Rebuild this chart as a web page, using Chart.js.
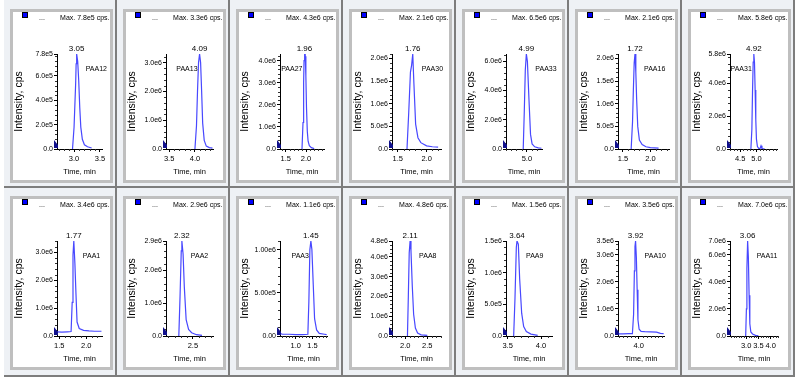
<!DOCTYPE html>
<html><head><meta charset="utf-8">
<script src="https://cdn.jsdelivr.net/npm/chart.js@4.4.1/dist/chart.umd.min.js"></script>
<style>
html,body{margin:0;padding:0;background:#fff;}
#wrap{position:relative;width:800px;height:386px;overflow:hidden;background:#fff;}
.cell{position:absolute;background:#eef1f5;border-right:2px solid #7d7d7d;border-bottom:2px solid #7d7d7d;box-sizing:border-box;}
.frame{position:absolute;border:3px solid #bfbfbf;background:#fff;box-sizing:border-box;}
canvas{display:block;}
</style></head><body><div id="wrap"></div>
<script>
// ---------------- DATA ----------------
const compounds = ['PAA12','PAA13','PAA27','PAA30','PAA33','PAA16','PAA31','PAA1','PAA2','PAA3','PAA8','PAA9','PAA10','PAA11'];
const maxLabels = ['Max. 7.8e5 cps.','Max. 3.3e6 cps.','Max. 4.3e6 cps.','Max. 2.1e6 cps.','Max. 6.5e6 cps.','Max. 2.1e6 cps.','Max. 5.8e6 cps.',
                   'Max. 3.4e6 cps.','Max. 2.9e6 cps.','Max. 1.1e6 cps.','Max. 4.8e6 cps.','Max. 1.5e6 cps.','Max. 3.5e6 cps.','Max. 7.0e6 cps.'];
const retentionTimes = ['3.05','4.09','1.96','1.76','4.99','1.72','4.92','1.77','2.32','1.45','2.11','3.64','3.92','3.06'];
const yMaxValues = [7.8e5,3.3e6,4.3e6,2.1e6,6.5e6,2.1e6,5.8e6,3.4e6,2.9e6,1.1e6,4.8e6,1.5e6,3.5e6,7.0e6];
const yTickValues = [
  [0,2e5,4e5,6e5,7.8e5],[0,1e6,2e6,3e6],[0,1e6,2e6,3e6,4e6],[0,5e5,1e6,1.5e6,2e6],[0,2e6,4e6,6e6],[0,5e5,1e6,1.5e6,2e6],[0,2e6,4e6,5.8e6],
  [0,1e6,2e6,3e6],[0,1e6,2e6,2.9e6],[0,5e5,1e6],[0,1e6,2e6,3e6,4e6,4.8e6],[0,5e5,1e6,1.5e6],[0,1e6,2e6,3e6,3.5e6],[0,2e6,4e6,6e6,7e6]];
const yTickLabels = [
  ['0.0','2.0e5','4.0e5','6.0e5','7.8e5'],['0.0','1.0e6','2.0e6','3.0e6'],['0.0','1.0e6','2.0e6','3.0e6','4.0e6'],
  ['0.0','5.0e5','1.0e6','1.5e6','2.0e6'],['0.0','2.0e6','4.0e6','6.0e6'],['0.0','5.0e5','1.0e6','1.5e6','2.0e6'],['0.0','2.0e6','4.0e6','5.8e6'],
  ['0.0','1.0e6','2.0e6','3.0e6'],['0.0','1.0e6','2.0e6','2.9e6'],['0.00','5.00e5','1.00e6'],['0.0','1.0e6','2.0e6','3.0e6','4.0e6','4.8e6'],
  ['0.0','5.0e5','1.0e6','1.5e6'],['0.0','1.0e6','2.0e6','3.0e6','3.5e6'],['0.0','2.0e6','4.0e6','6.0e6','7.0e6']];
const xRanges = [[2.67,3.54],[3.44,4.35],[1.36,2.44],[1.40,2.25],[4.60,5.29],[1.41,2.34],[4.19,5.63],
                 [1.46,2.29],[2.06,2.83],[0.53,1.93],[1.70,2.81],[3.475,4.165],[3.475,4.64],[2.34,4.30]];
const xTickValues = [[3.0,3.5],[3.5,4.0],[1.5,2.0],[1.5,2.0],[5.0],[1.5,2.0],[4.5,5.0],
                     [1.5,2.0],[2.5],[1.0,1.5],[2.0,2.5],[3.5,4.0],[4.0],[3.0,3.5,4.0]];
const xTickLabels = [['3.0','3.5'],['3.5','4.0'],['1.5','2.0'],['1.5','2.0'],['5.0'],['1.5','2.0'],['4.5','5.0'],
                     ['1.5','2.0'],['2.5'],['1.0','1.5'],['2.0','2.5'],['3.5','4.0'],['4.0'],['3.0','3.5','4.0']];

// traces: [time (min), intensity (cps)]
const trace_PAA12 = [[2.97,0],[3.00,1.8e5],[3.03,5.3e5],[3.04,7.0e5],[3.05,7.8e5],[3.07,7.2e5],[3.09,5.6e5],[3.11,3.4e5],[3.13,1.8e5],[3.16,0.8e5],[3.20,0.35e5],[3.26,0.18e5],[3.34,0.08e5]];
const trace_PAA13 = [[4.00,0],[4.03,0.8e6],[4.05,2.0e6],[4.07,3.0e6],[4.09,3.3e6],[4.11,3.0e6],[4.13,2.0e6],[4.15,0.9e6],[4.18,0.3e6],[4.22,0.1e6],[4.28,0.05e6],[4.34,0.03e6]];
const trace_PAA27 = [[1.90,0],[1.925,1.2e6],[1.94,3.0e6],[1.95,4.0e6],[1.96,4.3e6],[1.97,4.05e6],[1.98,4.2e6],[1.995,3.3e6],[2.01,1.9e6],[2.03,0.8e6],[2.05,0.35e6],[2.08,0.15e6],[2.13,0.06e6],[2.20,0.02e6]];
const trace_PAA30 = [[1.66,0],[1.69,0.8e6],[1.72,1.7e6],[1.74,1.85e6],[1.76,2.1e6],[1.78,1.45e6],[1.81,0.55e6],[1.85,0.25e6],[1.90,0.14e6],[2.00,0.07e6],[2.10,0.05e6],[2.20,0.04e6]];
const trace_PAA33 = [[4.93,0],[4.95,2.5e6],[4.97,5.4e6],[4.99,6.5e6],[5.01,6.0e6],[5.04,3.4e6],[5.07,1.0e6],[5.10,0.35e6],[5.15,0.15e6],[5.22,0.08e6],[5.28,0.05e6]];
const trace_PAA16 = [[1.65,0],[1.675,0.6e6],[1.69,1.3e6],[1.705,1.9e6],[1.72,2.1e6],[1.735,1.7e6],[1.75,1.1e6],[1.77,0.5e6],[1.80,0.2e6],[1.85,0.1e6],[1.92,0.05e6],[2.00,0.03e6],[2.15,0.02e6]];
const trace_PAA31 = [[4.83,0],[4.86,1.2e6],[4.88,3.5e6],[4.90,5.3e6],[4.92,5.8e6],[4.94,5.3e6],[4.96,3.6e6],[4.98,1.8e6],[5.00,0.6e6],[5.03,0.15e6],[5.07,0.04e6],[5.11,0.03e6],[5.14,0.2e6],[5.17,0.03e6],[5.25,0.01e6]];
const trace_PAA1  = [[1.46,0.15e6],[1.55,0.14e6],[1.65,0.15e6],[1.72,0.16e6],[1.74,1.2e6],[1.755,2.9e6],[1.77,3.4e6],[1.79,2.6e6],[1.81,1.5e6],[1.83,0.5e6],[1.87,0.27e6],[1.95,0.2e6],[2.05,0.18e6],[2.15,0.17e6],[2.28,0.17e6]];
const trace_PAA2  = [[2.27,0],[2.29,1.2e6],[2.31,2.6e6],[2.32,2.9e6],[2.34,2.5e6],[2.36,1.5e6],[2.39,0.5e6],[2.43,0.2e6],[2.48,0.1e6],[2.56,0.04e6],[2.65,0.02e6]];
const trace_PAA3  = [[0.53,0.03e6],[0.60,0.02e6],[0.80,0.02e6],[1.00,0.015e6],[1.20,0.015e6],[1.36,0.02e6],[1.39,0.4e6],[1.42,1.0e6],[1.45,1.1e6],[1.48,1.0e6],[1.52,0.6e6],[1.56,0.2e6],[1.62,0.07e6],[1.70,0.03e6],[1.85,0.02e6],[1.92,0.015e6]];
const trace_PAA8  = [[2.05,0],[2.07,2.0e6],[2.09,4.2e6],[2.11,4.8e6],[2.13,4.3e6],[2.16,2.5e6],[2.19,1.1e6],[2.23,0.4e6],[2.28,0.15e6],[2.36,0.06e6],[2.50,0.03e6]];
const trace_PAA9  = [[3.59,0],[3.61,0.6e6],[3.63,1.4e6],[3.64,1.5e6],[3.66,1.45e6],[3.68,0.9e6],[3.71,0.36e6],[3.74,0.15e6],[3.78,0.07e6],[3.85,0.03e6],[3.95,0.01e6]];
const trace_PAA10 = [[3.48,0.08e6],[3.60,0.08e6],[3.75,0.09e6],[3.84,0.09e6],[3.87,0.8e6],[3.89,2.4e6],[3.905,3.3e6],[3.92,3.5e6],[3.94,2.9e6],[3.96,1.7e6],[3.98,0.6e6],[4.01,0.25e6],[4.06,0.17e6],[4.15,0.16e6],[4.30,0.15e6],[4.45,0.14e6],[4.55,0.10e6],[4.63,0.09e6]];
const trace_PAA11 = [[2.98,0],[3.01,2.0e6],[3.03,5.0e6],[3.06,7.0e6],[3.09,5.8e6],[3.12,3.0e6],[3.15,0.9e6],[3.19,0.3e6],[3.26,0.15e6],[3.38,0.05e6],[3.50,0.02e6]];
const traces = [trace_PAA12,trace_PAA13,trace_PAA27,trace_PAA30,trace_PAA33,trace_PAA16,trace_PAA31,
                trace_PAA1,trace_PAA2,trace_PAA3,trace_PAA8,trace_PAA9,trace_PAA10,trace_PAA11];

// ---------------- LAYOUT (positions / styles) ----------------
const plotLeft = [44,40,41,40,41,40,39];
const plotRight = [89,87,85,89,77,91,86, 89,87,88,89,87,86,87];
const labelSide = ['r','l','l','r','r','r','l', 'r','r','l','r','r','r','r'];
const CW = 97, CH = 168, PLOT_TOP = 42, PLOT_BOTTOM = 137;
const FONT = '"Liberation Sans", Arial, sans-serif';
const TRACE = '#4848ff';

const deco = {
  id: 'panelDeco',
  afterDraw(chart, args, opts) {
    const k = opts.index;
    const ctx = chart.ctx, a = chart.chartArea;
    const xs = chart.scales.x, ys = chart.scales.y;
    ctx.save();
    // minor ticks
    ctx.strokeStyle = '#333'; ctx.lineWidth = 1;
    const xMaj = xTickValues[k];
    for (let v = Math.ceil(xs.min * 10) / 10; v <= xs.max + 1e-9; v = Math.round((v + 0.1) * 100) / 100) {
      if (xMaj.some(m => Math.abs(m - v) < 1e-6)) continue;
      const px = Math.round(xs.getPixelForValue(v)) + 0.5;
      ctx.beginPath(); ctx.moveTo(px, a.bottom); ctx.lineTo(px, a.bottom + 2); ctx.stroke();
    }
    const yMaj = yTickValues[k];
    const minor = (yMaj[1] - yMaj[0]) / 5;
    for (let i = 1; i * minor <= ys.max + 1e-6; i++) {
      const v = i * minor;
      if (yMaj.some(m => Math.abs(m - v) < minor * 0.3)) continue;
      const py = Math.round(ys.getPixelForValue(v)) + 0.5;
      ctx.beginPath(); ctx.moveTo(a.left - 2, py); ctx.lineTo(a.left, py); ctx.stroke();
    }
    // header
    ctx.fillStyle = '#0000ff'; ctx.fillRect(9, 0, 6, 6);
    ctx.strokeStyle = '#000'; ctx.strokeRect(9.5, 0.5, 5, 5);
    ctx.fillStyle = '#000'; ctx.font = '7px ' + FONT;
    ctx.textAlign = 'left'; ctx.textBaseline = 'alphabetic';
    ctx.fillText('...', 26, 8);
    ctx.textAlign = 'right'; ctx.fillText(maxLabels[k], 96.5, 8);
    // axis titles
    ctx.save();
    ctx.translate(6, (a.top + a.bottom) / 2); ctx.rotate(-Math.PI / 2);
    ctx.font = '10.5px ' + FONT; ctx.textAlign = 'center'; ctx.textBaseline = 'middle';
    ctx.fillText('Intensity, cps', 0, 0);
    ctx.restore();
    ctx.font = '7.5px ' + FONT; ctx.textAlign = 'center'; ctx.textBaseline = 'middle';
    ctx.fillText('Time, min', (a.left + a.right) / 2, 160);
    // apex labels
    const tr = traces[k];
    let im = 0; tr.forEach((p, i) => { if (p[1] > tr[im][1]) im = i; });
    const px = xs.getPixelForValue(tr[im][0]), py = ys.getPixelForValue(tr[im][1]);
    ctx.font = '8px ' + FONT; ctx.textAlign = 'center'; ctx.textBaseline = 'bottom';
    ctx.fillText(retentionTimes[k], px, py - 1);
    ctx.font = '7px ' + FONT; ctx.textBaseline = 'middle';
    if (labelSide[k] === 'r') { ctx.textAlign = 'left'; ctx.fillText(compounds[k], px + 9, a.top + 15); }
    else { ctx.textAlign = 'right'; ctx.fillText(compounds[k], px - 2, a.top + 15); }
    // baseline marker
    ctx.fillStyle = '#10108c';
    ctx.beginPath();
    ctx.moveTo(a.left - 3, a.bottom - 9); ctx.lineTo(a.left + 1, a.bottom - 4);
    ctx.lineTo(a.left + 1, a.bottom - 1); ctx.lineTo(a.left - 3, a.bottom - 1); ctx.closePath(); ctx.fill();
    ctx.restore();
  }
};

const wrap = document.getElementById('wrap');
for (let k = 0; k < 14; k++) {
  const r = Math.floor(k / 7), c = k % 7;
  const cell = document.createElement('div'); cell.className = 'cell';
  cell.style.left = (4 + 113 * c) + 'px'; cell.style.top = (r === 0 ? 0 : 188) + 'px';
  cell.style.width = '113px'; cell.style.height = (r === 0 ? 188 : 189) + 'px';
  const frame = document.createElement('div'); frame.className = 'frame';
  frame.style.left = '6px'; frame.style.top = (r === 0 ? 9 : 8) + 'px';
  frame.style.width = '103px'; frame.style.height = '174px';
  const cv = document.createElement('canvas'); cv.width = CW; cv.height = CH;
  cv.style.width = CW + 'px'; cv.style.height = CH + 'px';
  frame.appendChild(cv); cell.appendChild(frame); wrap.appendChild(cell);

  const [xmin, xmax] = xRanges[k];
  const tickFontY = { family: FONT, size: 7 };
  const tickFontX = { family: FONT, size: 7.5 };
  new Chart(cv, {
    type: 'line',
    data: { datasets: [{ data: traces[k].map(p => ({ x: p[0], y: p[1] })), borderColor: TRACE, borderWidth: 1.2,
      pointRadius: 0, tension: 0, fill: false }] },
    options: {
      responsive: false, animation: false, devicePixelRatio: 1, events: [],
      layout: { padding: { top: PLOT_TOP, right: CW - plotRight[k], left: 0, bottom: 0 } },
      plugins: { legend: { display: false }, tooltip: { enabled: false }, panelDeco: { index: k } },
      scales: {
        x: { type: 'linear', min: xmin, max: xmax,
          afterBuildTicks: s => { s.ticks = xTickValues[k].map(v => ({ value: v })); },
          afterFit: s => { s.height = CH - PLOT_BOTTOM; },
          ticks: { autoSkip: false, maxRotation: 0, padding: 2, color: '#000', font: tickFontX,
            callback: (v, i) => xTickLabels[k][i] },
          grid: { drawOnChartArea: false, drawTicks: true, tickLength: 3, tickColor: '#000', color: '#000' },
          border: { display: true, color: '#000', width: 1 } },
        y: { type: 'linear', min: 0, max: yMaxValues[k],
          afterBuildTicks: s => { s.ticks = yTickValues[k].map(v => ({ value: v })); },
          afterFit: s => { s.width = plotLeft[c]; },
          ticks: { autoSkip: false, padding: 1, color: '#000', font: tickFontY,
            callback: (v, i) => yTickLabels[k][i] },
          grid: { drawOnChartArea: false, drawTicks: true, tickLength: 3, tickColor: '#000', color: '#000' },
          border: { display: true, color: '#000', width: 1 } }
      }
    },
    plugins: [deco]
  });
}
</script></body></html>
